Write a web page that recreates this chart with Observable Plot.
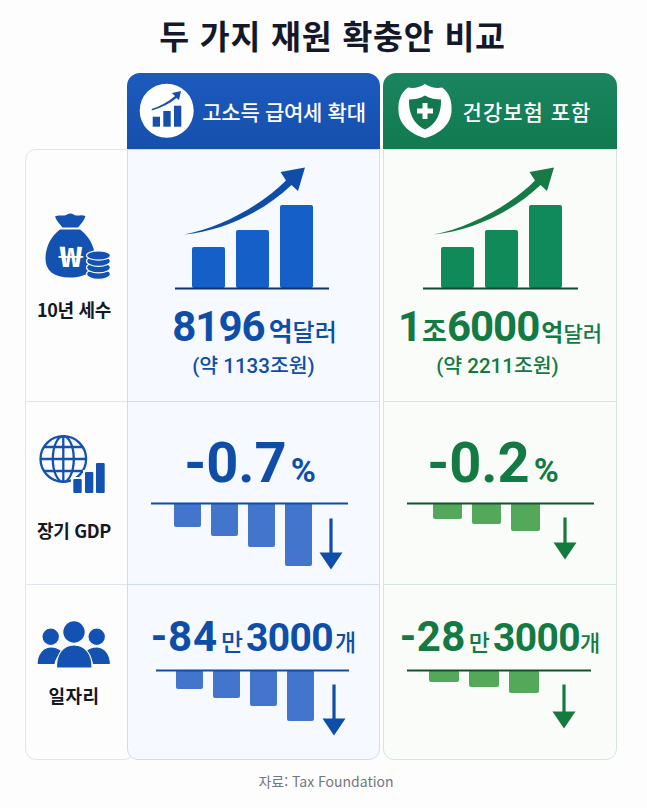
<!DOCTYPE html>
<html lang="ko">
<head>
<meta charset="utf-8">
<script src="https://cdn.jsdelivr.net/npm/d3@7"></script>
<script src="https://cdn.jsdelivr.net/npm/@observablehq/plot@0.6"></script>
<style>
  html, body { margin: 0; padding: 0; background: #fff; }
  #page { position: relative; width: 647px; height: 808px; overflow: hidden; background: #fdfdfe;
          font-family: "Noto Sans CJK KR", "Noto Sans", sans-serif; }
  .box { position: absolute; box-sizing: border-box; }
  .t { position: absolute; transform: translate(-50%, -50%); white-space: nowrap; line-height: 1; z-index: 3; }
  .t span { display: inline-block; line-height: 1; }
  .blue { color: #0f4ea8; }
  .green { color: #137a44; }
</style>
</head>
<body>
<div id="page"></div>
<script>
// ---- Chart content ----------------------------------------------------
const title = "두 가지 재원 확충안 비교";
const source = "자료: Tax Foundation";
const planNames = ["고소득 급여세 확대", "건강보험 포함"];
const rowLabels = ["10년 세수", "장기 GDP", "일자리"];

const revenueSteps = ["1", "2", "3"];
const revenueBars = [41, 58, 83];

const gdpStepsA = ["1", "2", "3", "4"];
const gdpBarsA = [-24, -33, -44, -63];
const gdpStepsB = ["1", "2", "3"];
const gdpBarsB = [-16, -21, -28];

const jobsStepsA = ["1", "2", "3", "4"];
const jobsBarsA = [-19, -28, -36, -51];
const jobsStepsB = ["1", "2", "3"];
const jobsBarsB = [-12, -17, -23];

const revenueLabelA = ["8196", "억", "달러"];
const revenueLabelB = ["1", "조", "6000", "억", "달러"];
const revenueNoteA = "(약 1133조원)";
const revenueNoteB = "(약 2211조원)";
const gdpLabelA = ["-0.7", "%"];
const gdpLabelB = ["-0.2", "%"];
const jobsLabelA = ["-84", "만", "3000", "개"];
const jobsLabelB = ["-28", "만", "3000", "개"];

// ---- Page helpers -----------------------------------------------------
const page = document.getElementById("page");
function box(l, t, w, h, css) {
  const d = document.createElement("div");
  d.className = "box";
  d.style.cssText = `left:${l}px;top:${t}px;width:${w}px;height:${h}px;${css}`;
  page.append(d);
}
function text(cx, cy, content, css, cls) {
  const d = document.createElement("div");
  d.className = "t " + (cls || "");
  d.style.cssText = `left:${cx}px;top:${cy}px;${css}`;
  if (Array.isArray(content)) {
    content.forEach(([s, st]) => {
      const span = document.createElement("span");
      span.textContent = s;
      span.style.cssText = st;
      d.append(span);
    });
  } else d.textContent = content;
  page.append(d);
}
function icons(markup) {
  const wrap = document.createElement("div");
  wrap.className = "box";
  wrap.style.cssText = "left:0;top:0;width:647px;height:808px;z-index:3;pointer-events:none";
  wrap.innerHTML = `<svg xmlns="http://www.w3.org/2000/svg" width="647" height="808" viewBox="0 0 647 808" style="font-family:'Noto Sans CJK KR'">${markup}</svg>`;
  page.append(wrap);
}

// ---- Panels -----------------------------------------------------------
box(25, 149, 110, 611, "background:#fdfdfe;border:1px solid #dfe4ee;border-radius:11px;");
box(127, 149, 253, 611, "background:#f6f9ff;border:1px solid #cfdcf4;border-radius:0 0 11px 11px;");
box(383, 149, 234, 611, "background:#f9fcf9;border:1px solid #d6e7da;border-radius:0 0 11px 11px;");
box(127, 73, 253, 76, "background:linear-gradient(#1c5abd,#1650ad);border-radius:13px 13px 0 0;");
box(383, 73, 234, 76, "background:linear-gradient(#1a8560,#117a50);border-radius:13px 13px 0 0;");
box(26, 401, 101, 1, "background:#e0e5f2;");
box(128, 401, 251, 1, "background:#cfdcf4;");
box(384, 401, 232, 1, "background:#d6e7da;");
box(26, 584, 101, 1, "background:#e0e5f2;");
box(128, 584, 251, 1, "background:#cfdcf4;");
box(384, 584, 232, 1, "background:#d6e7da;");

// ---- Small multiples drawn with Plot ---------------------------------
const downArrow = {
  draw(c, l) {
    const head = 17, half = 11.5, w = 1.6;
    c.moveTo(-w, 0); c.lineTo(w, 0); c.lineTo(w, -(l - head));
    c.lineTo(half, -(l - head)); c.lineTo(0, -l); c.lineTo(-half, -(l - head));
    c.lineTo(-w, -(l - head)); c.closePath();
  }
};

function chart(o) {
  const data = o.cats.map((c, i) => ({c, v: o.vals[i]}));
  const rising = o.vals[0] > 0;
  const depth = o.height - 4;
  const marks = [
    Plot.barY(data, {x: "c", y: "v", fill: o.fill, rx: 2}),
    Plot.ruleY([0], {stroke: o.rule, strokeWidth: 2})
  ];
  if (o.arrow) {
    marks.push(Plot.vector([o.cats[o.cats.length - 1]], {
      x: d => d, y: [o.arrow[0]], length: o.arrow[1], rotate: 180, anchor: "start",
      shape: downArrow, fill: o.arrowFill, stroke: "none", dx: o.arrow[2]
    }));
  }
  const svg = Plot.plot({
    width: o.width, height: o.height,
    marginTop: 0, marginRight: 0, marginBottom: 0, marginLeft: 0,
    x: {domain: o.cats, range: o.xr, paddingInner: 0.26, paddingOuter: 0, align: 0.5, axis: null},
    y: rising ? {domain: [0, depth], range: [o.height - 2, 2], axis: null}
              : {domain: [0, -depth], range: [2, o.height - 2], axis: null},
    marks
  });
  svg.style.position = "absolute";
  svg.style.background = "transparent";
  svg.style.overflow = "visible";
  svg.style.maxWidth = "none";
  svg.style.left = o.left + "px";
  svg.style.top = o.top + "px";
  svg.style.zIndex = 2;
  page.append(svg);
}

const blueDark = "#0f4ea8", greenDark = "#157a3e";
chart({cats: revenueSteps, vals: revenueBars, left: 175, top: 200, width: 154, height: 90, xr: [16.5, 139], fill: "#1460c8", rule: "#0c3468"});
chart({cats: revenueSteps, vals: revenueBars, left: 423, top: 200, width: 155, height: 90, xr: [17, 140], fill: "#0f8a58", rule: "#0b4a33"});
chart({cats: gdpStepsA, vals: gdpBarsA, left: 151, top: 501, width: 197, height: 72, xr: [22, 163], fill: "#4475cc", rule: blueDark, arrow: [-15, 51, 32], arrowFill: blueDark});
chart({cats: gdpStepsB, vals: gdpBarsB, left: 407, top: 501, width: 187, height: 72, xr: [25, 133], fill: "#53a85a", rule: "#11532f", arrow: [-14, 42, 39], arrowFill: greenDark});
chart({cats: jobsStepsA, vals: jobsBarsA, left: 156, top: 668, width: 193, height: 72, xr: [19, 160], fill: "#4475cc", rule: blueDark, arrow: [-14, 51, 33], arrowFill: blueDark});
chart({cats: jobsStepsB, vals: jobsBarsB, left: 407, top: 668, width: 184, height: 72, xr: [21, 133], fill: "#53a85a", rule: "#11532f", arrow: [-14, 44, 39.5], arrowFill: greenDark});

// ---- Text -------------------------------------------------------------
text(332.5, 35, title, "font-size:32.5px;font-weight:700;color:#14192a;letter-spacing:0.8px;");
text(284, 111, planNames[0], "font-size:21px;font-weight:500;color:#fff;letter-spacing:-0.3px;");
text(527, 111, planNames[1], "font-size:21px;font-weight:500;color:#fff;letter-spacing:1px;");

text(74, 309, rowLabels[0], "font-size:18px;font-weight:700;color:#15181f;letter-spacing:-0.3px;");
text(74, 530, rowLabels[1], "font-size:18px;font-weight:700;color:#15181f;letter-spacing:-0.3px;");
text(74, 695, rowLabels[2], "font-size:18px;font-weight:700;color:#15181f;letter-spacing:0.5px;");

const NUM = "font-family:Roboto,'Noto Sans CJK KR',sans-serif;";
const N = (s, ls) => NUM + `font-size:${s}px;font-weight:700;letter-spacing:${ls || 0}px;`;
const L = (s, ls) => `font-size:${s}px;font-weight:700;letter-spacing:${ls || 0}px;`;
const M = (s, ls) => `font-size:${s}px;font-weight:500;letter-spacing:${ls || 0}px;`;
text(254.5, 327, [[revenueLabelA[0], N(42, -1)], [revenueLabelA[1], L(26) + "margin-left:4px;"], [revenueLabelA[2], M(24)]], "", "blue");
text(500, 327, [[revenueLabelB[0], N(42)], [revenueLabelB[1], L(27)], [revenueLabelB[2], N(42, -1)], [revenueLabelB[3], L(24) + "margin-left:2px;"], [revenueLabelB[4], M(21)]], "", "green");
text(253.5, 366, revenueNoteA, NUM + "font-size:20.5px;font-weight:500;", "blue");
text(497.5, 366, revenueNoteB, NUM + "font-size:20.5px;font-weight:500;", "green");

text(250, 463, [[gdpLabelA[0], N(56, 0)], [gdpLabelA[1], N(34) + "margin-left:4px;"]], "", "blue");
text(493, 463, [[gdpLabelB[0], N(56, 0)], [gdpLabelB[1], N(34) + "margin-left:4px;"]], "", "green");

text(253.5, 637, [[jobsLabelA[0], N(42, 0.8)], [jobsLabelA[1], M(24) + "margin:0 3px;"], [jobsLabelA[2], N(39, -0.6)], [jobsLabelA[3], M(23) + "margin-left:2px;"]], "", "blue");
text(500, 637, [[jobsLabelB[0], N(42, 0.4)], [jobsLabelB[1], M(23) + "margin:0 3px;"], [jobsLabelB[2], N(39, -0.6)], [jobsLabelB[3], M(22)]], "", "green");

text(326, 781, source, "font-size:14px;font-weight:400;color:#74777d;");

// ---- Icons ------------------------------------------------------------
const ICON = "#1352b0";
const swoosh = "M184 234.5 C220 228 262 205 286 180.5 L280.5 172 L305 167.5 L298 191 L291.5 185 C262 213 222 231 184 234.5 Z";
icons(`
  <path d="${swoosh}" fill="#0f4ea8"/>
  <path d="${swoosh}" fill="#157a46" transform="translate(249,0)"/>

  <circle cx="166.7" cy="110.7" r="27" fill="#fff"/>
  <g fill="#1650ad">
    <rect x="152.7" y="116.7" width="7.3" height="10"/>
    <rect x="163.3" y="111" width="7.4" height="15.7"/>
    <rect x="174" y="105.7" width="7.3" height="21"/>
    <path d="M151.7 109 C160 106.5 168 102 175 96 L172 93 L181 91 L179 100 L176.5 98 C169 104 161 108 151.9 110.5 Z"/>
  </g>

  <path d="M425 84 C431 88 437 88.5 442 87.5 C450 93 452 102 451.5 111 C451 124 440 134 425 138 C410 134 399 124 398.5 111 C398 102 400 93 408 87.5 C413 88.5 419 88 425 84 Z" fill="#fff"/>
  <path d="M425 95.5 C430 98.5 436 99.5 441 99.5 C441.5 112 437 124 425 129.5 C413 124 408.5 112 409 99.5 C414 99.5 420 98.5 425 95.5 Z" fill="#12794f"/>
  <path d="M422.5 103 h5 v5.5 h5.5 v5 h-5.5 v5.5 h-5 v-5.5 h-5.5 v-5 h5.5 Z" fill="#fff"/>

  <g fill="${ICON}">
    <path d="M55 216.5 C60 214 64 217 67 214.5 C69.5 213 71.5 213 73.5 214.5 C77 217 80 214 85.5 216 C84.5 220 81 224 78 227.5 L62.5 227.5 C59.5 224 56 220 55 216.5 Z"/>
    <path d="M60 229.5 L80 229.5 C89 236 95 247 95 258.5 C95 271 86 277.5 70 277.5 C54 277.5 45.5 271 45.5 258.5 C45.5 247 51 236 60 229.5 Z"/>
  </g>
  <text transform="translate(70.8,266.5) scale(1.4,1)" font-size="28" font-weight="700" fill="#fff" text-anchor="middle">₩</text>
  <g stroke="#fdfdfe" stroke-width="1.2" fill="${ICON}">
    <ellipse cx="98.5" cy="274" rx="12" ry="5.4"/>
    <ellipse cx="98.5" cy="267.5" rx="12" ry="5.4"/>
    <ellipse cx="98.5" cy="261" rx="12" ry="5.4"/>
    <ellipse cx="98.5" cy="255.5" rx="12" ry="4.6"/>
  </g>

  <g fill="none" stroke="${ICON}" stroke-width="2.3">
    <circle cx="63.3" cy="459" r="22.8"/>
    <ellipse cx="63.3" cy="459" rx="10.5" ry="22.8"/>
    <path d="M63.3 436 V482 M40.5 459 H86 M44 447 H82.5 M44 471 H82.5"/>
  </g>
  <path d="M71 477 h11 v18 h-11 Z M83 470 h11 v25 h-11 Z M94 461 h12 v34 h-12 Z" fill="#fdfdfe"/>
  <g fill="${ICON}">
    <rect x="73.3" y="479" width="8.4" height="14" rx="1"/>
    <rect x="85" y="472" width="8.3" height="21" rx="1"/>
    <rect x="96" y="463" width="8.7" height="30" rx="1"/>
  </g>

  <g fill="${ICON}" stroke="#fdfdfe" stroke-width="1.2">
    <circle cx="50.7" cy="636.7" r="8.8"/>
    <circle cx="96.7" cy="636.7" r="8.8"/>
    <path d="M37 664.5 C37 654 43 647 51 647 C56 647 60 649 63 652 C58 656 55.5 660 55 664.5 Z"/>
    <path d="M110.5 664.5 C110.5 654 104.5 647 96.5 647 C91.5 647 87.5 649 84.5 652 C89.5 656 92 660 92.5 664.5 Z"/>
    <circle cx="74" cy="632" r="11.3"/>
    <path d="M56.5 668 C56 654 63 645 74 645 C85 645 92.5 654 92 668 Z"/>
  </g>
`);
</script>
</body>
</html>
